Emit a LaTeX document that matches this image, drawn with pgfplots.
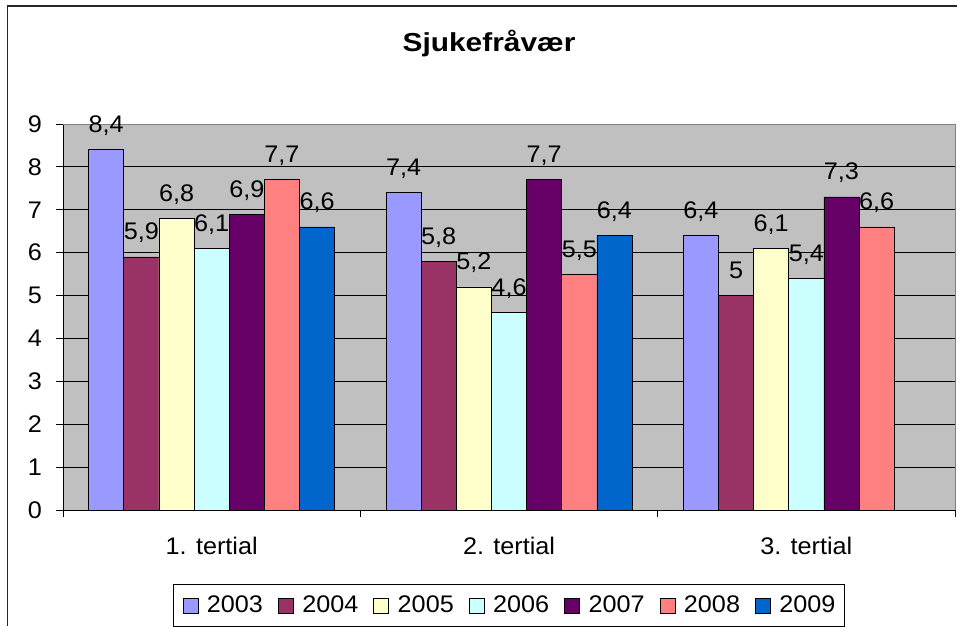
\documentclass[border=0pt]{standalone}
\usepackage{fontspec}
\setmainfont{Liberation Sans}[FakeStretch=1.05]
\newfontfamily\titlefont{Liberation Sans}[FakeStretch=1.15]
\usepackage{pgfplots}
\pgfplotsset{compat=1.18}
\definecolor{c03}{HTML}{9999FF}
\definecolor{c04}{HTML}{993366}
\definecolor{c05}{HTML}{FFFFCC}
\definecolor{c06}{HTML}{CCFFFF}
\definecolor{c07}{HTML}{660066}
\definecolor{c08}{HTML}{FF8080}
\definecolor{c09}{HTML}{0066CC}
\definecolor{plotbg}{HTML}{C0C0C0}
\pgfplotsset{
  sq/.style={legend image code/.code={\path[draw=none, fill=none] (0pt,0pt) -- (24pt,0pt);\draw[##1, line width=0.7pt, draw=black] (0pt,-7.5pt) rectangle (15pt,7.5pt);}},
}
\begin{document}
\fontsize{24}{28}\selectfont
\begin{tikzpicture}
\useasboundingbox (0pt,0pt) rectangle (957pt,626pt);
\draw[line width=1.3pt, black!85] (7.5pt,0pt) -- (7.5pt,620pt) -- (957pt,620pt);
\node[anchor=base, inner sep=0pt, font=\titlefont\bfseries\fontsize{26}{30}\selectfont] at (489pt,574pt) {Sjukefråvær};
\begin{axis}[
  at={(63pt,116pt)}, anchor=south west,
  width=892pt, height=386pt, scale only axis,
  xmin=-0.5, xmax=2.5, ymin=0, ymax=9,
  ybar=0pt, bar width=35.14pt,
  axis background/.style={fill=plotbg},
  axis x line*=bottom, axis y line*=left,
  axis line style={-, black, line width=0.8pt},
  xtick={-0.5,0.5,1.5,2.5},
  x tick label as interval,
  xticklabels={1. tertial,2. tertial,3. tertial},
  ytick={0,1,2,3,4,5,6,7,8,9},
  tick align=outside,
  major tick length=7pt,
  tick style={black, line width=0.8pt},
  ymajorgrids, grid style={black, line width=0.8pt},
  /pgf/number format/assume math mode=true,
  /pgf/number format/use comma,
  yticklabel style={xshift=-6pt},
  xticklabel style={yshift=-12pt},
  nodes near coords,
  nodes near coords style={anchor=base, yshift=17pt, inner sep=0pt},
  clip=false,
  legend columns=7,
  legend style={at={(0.5,-0.1917)}, anchor=north, draw=black, line width=0.8pt,
    inner xsep=9pt, inner ysep=11pt,
    nodes={inner sep=0pt},
    /tikz/every even column/.append style={column sep=15pt}},
]
\addplot[fill=c03, draw=black, line width=0.7pt, sq] coordinates {(0,8.4) (1,7.4) (2,6.4)};
\addplot[fill=c04, draw=black, line width=0.7pt, sq] coordinates {(0,5.9) (1,5.8) (2,5)};
\addplot[fill=c05, draw=black, line width=0.7pt, sq] coordinates {(0,6.8) (1,5.2) (2,6.1)};
\addplot[fill=c06, draw=black, line width=0.7pt, sq] coordinates {(0,6.1) (1,4.6) (2,5.4)};
\addplot[fill=c07, draw=black, line width=0.7pt, sq] coordinates {(0,6.9) (1,7.7) (2,7.3)};
\addplot[fill=c08, draw=black, line width=0.7pt, sq] coordinates {(0,7.7) (1,5.5) (2,6.6)};
\addplot[fill=c09, draw=black, line width=0.7pt, sq] coordinates {(0,6.6) (1,6.4)};
\legend{2003,2004,2005,2006,2007,2008,2009}
\draw[gray, line width=0.8pt] (rel axis cs:0,1) -- (rel axis cs:1,1) -- (rel axis cs:1,0);
\end{axis}
\end{tikzpicture}
\end{document}
